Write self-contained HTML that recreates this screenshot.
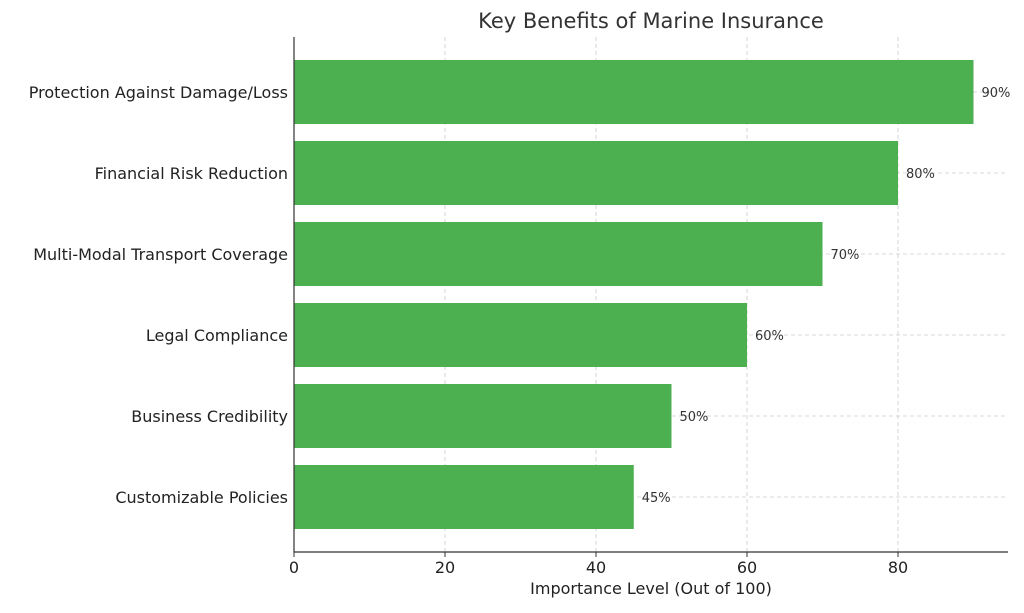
<!DOCTYPE html>
<html><head><meta charset="utf-8"><style>
body{margin:0;background:#fff;}
svg text{font-family:"DejaVu Sans","Liberation Sans",sans-serif;}
</style></head><body>
<svg id="chart" width="1024" height="608"></svg>
<script>
const categories=["Protection Against Damage/Loss","Financial Risk Reduction","Multi-Modal Transport Coverage","Legal Compliance","Business Credibility","Customizable Policies"];
const values=[90,80,70,60,50,45];
const ticks=[0,20,40,60,80];
const svg=document.getElementById('chart');
const NS='http://www.w3.org/2000/svg';
const x0=294,pxPer=7.55,plotTop=37,plotBottom=552,plotRight=1008;
const xs=v=>x0+v*pxPer;
const step=81,firstC=92,bh=64;
const yc=i=>firstC+i*step;
function mk(t,a,txt){const e=document.createElementNS(NS,t);for(const k in a)e.setAttribute(k,a[k]);if(txt!==undefined)e.textContent=txt;svg.appendChild(e);return e;}
let e;
e=mk('text',{x:651,y:28,'text-anchor':'middle','font-size':21,fill:'#333'},'Key Benefits of Marine Insurance');


ticks.forEach(t=>{
 e=mk('line',{x1:xs(t),x2:xs(t),y1:plotTop,y2:plotBottom,stroke:'#ccc','stroke-dasharray':'4,3','stroke-width':0.8});
 
 
});
categories.forEach((c,i)=>{
 e=mk('line',{x1:x0,x2:plotRight,y1:yc(i),y2:yc(i),stroke:'#ccc','stroke-dasharray':'4,3','stroke-width':0.8});
 
 
});
categories.forEach((c,i)=>{
 e=mk('rect',{x:x0,y:yc(i)-bh/2,width:xs(values[i])-x0,height:bh,fill:'#4caf50'});
 
 
 e=mk('text',{x:xs(values[i])+8,y:yc(i)+5,'font-size':13,fill:'#333'},values[i]+'%');
 
 
 e=mk('text',{x:288,y:yc(i)+6,'text-anchor':'end','font-size':16,fill:'#222'},c);
 
 
});
ticks.forEach(t=>{
 e=mk('line',{x1:xs(t),x2:xs(t),y1:plotBottom,y2:plotBottom+5,stroke:'#333'});
 
 
 e=mk('text',{x:xs(t),y:plotBottom+21,'text-anchor':'middle','font-size':16,fill:'#222'},t);
 
 
});
e=mk('line',{x1:x0,x2:x0,y1:plotTop,y2:plotBottom,stroke:'#333','stroke-width':1.2});


e=mk('line',{x1:x0,x2:plotRight,y1:plotBottom,y2:plotBottom,stroke:'#333','stroke-width':1.2});


e=mk('text',{x:651,y:594,'text-anchor':'middle','font-size':16,fill:'#222'},'Importance Level (Out of 100)');


</script></body></html>
